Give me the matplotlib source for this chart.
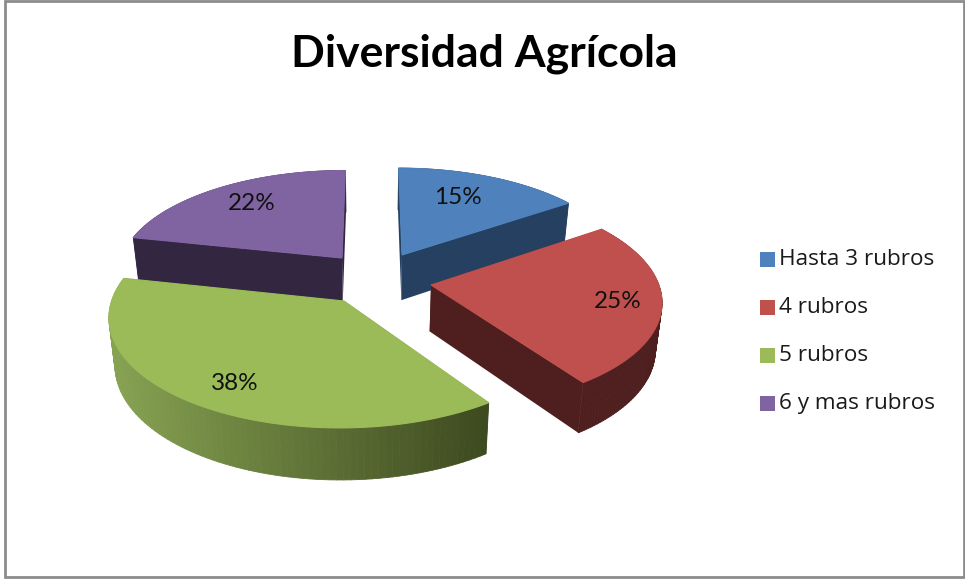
import numpy as np
import matplotlib
matplotlib.use('Agg')
import matplotlib.pyplot as plt
from matplotlib.patches import Polygon, Rectangle
from matplotlib.collections import PolyCollection
from matplotlib.colors import to_rgb

# Chart data
title = 'Diversidad Agrícola'
categories = ['Hasta 3 rubros', '4 rubros', '5 rubros', '6 y mas rubros']
values = [15.4, 25.0, 38.0, 21.6]
pct_labels = ['15%', '25%', '38%', '22%']

# Slice styles
top_colors = ['#4F81BD', '#C0504D', '#9BBB59', '#8064A2']
side_left = ['#254061', '#4E1F1E', '#87A352', '#332640']
side_right = ['#254061', '#4E1F1E', '#3E4A20', '#332640']

# Layout in pixels of the reference image
W, H = 965, 579
apex = [(402, 255), (431, 285), (344, 301), (342, 258)]
label_pos = [(458, 197), (618, 302), (235, 383), (252, 204)]
legend_y = [259, 307, 355, 403]
RX, RY, K, DEPTH, CX, CY = 225, 103, 0.13, 46, 372, 275


def project(theta, i, r=1.0, low=False):
    # apex back to disc units, then perspective on the shifted point
    y0 = (CY - apex[i][1]) / RY
    up0 = y0 / (1 - K * y0)
    s0 = 1 / (1 + K * up0)
    x0 = (apex[i][0] - CX) / (RX * s0)
    up = up0 + r * np.cos(theta)
    s = 1 / (1 + K * up)
    x = CX + RX * (x0 + r * np.sin(theta)) * s
    y = CY - RY * up * s
    if low:
        x = CX + (x - CX) * 0.977
        y = y + DEPTH * s ** 0.7
    return x, y


fig = plt.figure(figsize=(W / 100, H / 100), dpi=100)
ax = fig.add_axes([0, 0, 1, 1])
ax.set_xlim(0, W)
ax.set_ylim(H, 0)
ax.axis('off')

ax.add_patch(Rectangle((5, 1), W - 6.5, H - 3, fc='white', ec='#8c8c8c', lw=2))

fractions = np.cumsum([0] + values) / sum(values)
for i in range(len(values)):
    t = np.linspace(fractions[i], fractions[i + 1], 90) * 2 * np.pi
    xt, yt = project(t, i)
    xb, yb = project(t, i, low=True)
    ax0, ay0 = project(0.0, i, r=0.0)
    bx0, by0 = project(0.0, i, r=0.0, low=True)
    z = {3: 1, 0: 4, 2: 7, 1: 10}[i]

    # cut faces
    for k in (0, -1):
        ax.add_patch(Polygon([(ax0, ay0), (xt[k], yt[k]), (xb[k], yb[k]), (bx0, by0)],
                             fc=side_right[i], ec='none', zorder=z))

    # outer wall, shaded from left to right
    quads, cols = [], []
    c0, c1 = np.array(to_rgb(side_left[i])), np.array(to_rgb(side_right[i]))
    x_min, x_max = xt.min(), xt.max()
    for j in range(len(t) - 1):
        quads.append([(xt[j], yt[j]), (xt[j + 1], yt[j + 1]), (xb[j + 1], yb[j + 1]), (xb[j], yb[j])])
        f = (xt[j] - x_min) / (x_max - x_min)
        cols.append(tuple(c0 + (c1 - c0) * f))
    ax.add_collection(PolyCollection(quads, facecolors=cols, edgecolors=cols, linewidths=0.6, zorder=z))

    # top face
    ax.add_patch(Polygon([(ax0, ay0)] + list(zip(xt, yt)), fc=top_colors[i], ec=top_colors[i], lw=0.8, zorder=z + 1))

for lab, (x, y) in zip(pct_labels, label_pos):
    ax.text(x, y, lab, ha='center', va='center', fontsize=17.5, color='#111111', family='Lato', zorder=30)

ax.text(484, 54, title, ha='center', va='center', fontsize=32, fontweight='bold', family='Lato')

for name, col, y in zip(categories, top_colors, legend_y):
    ax.add_patch(Rectangle((760, y - 7.5), 15, 15, fc=col, ec='none'))
    ax.text(779, y + 0.5, name, ha='left', va='center', fontsize=16.2, color='#1a1a1a', family='Open Sans')

fig.savefig('out.png', dpi=100)
plt.close()
